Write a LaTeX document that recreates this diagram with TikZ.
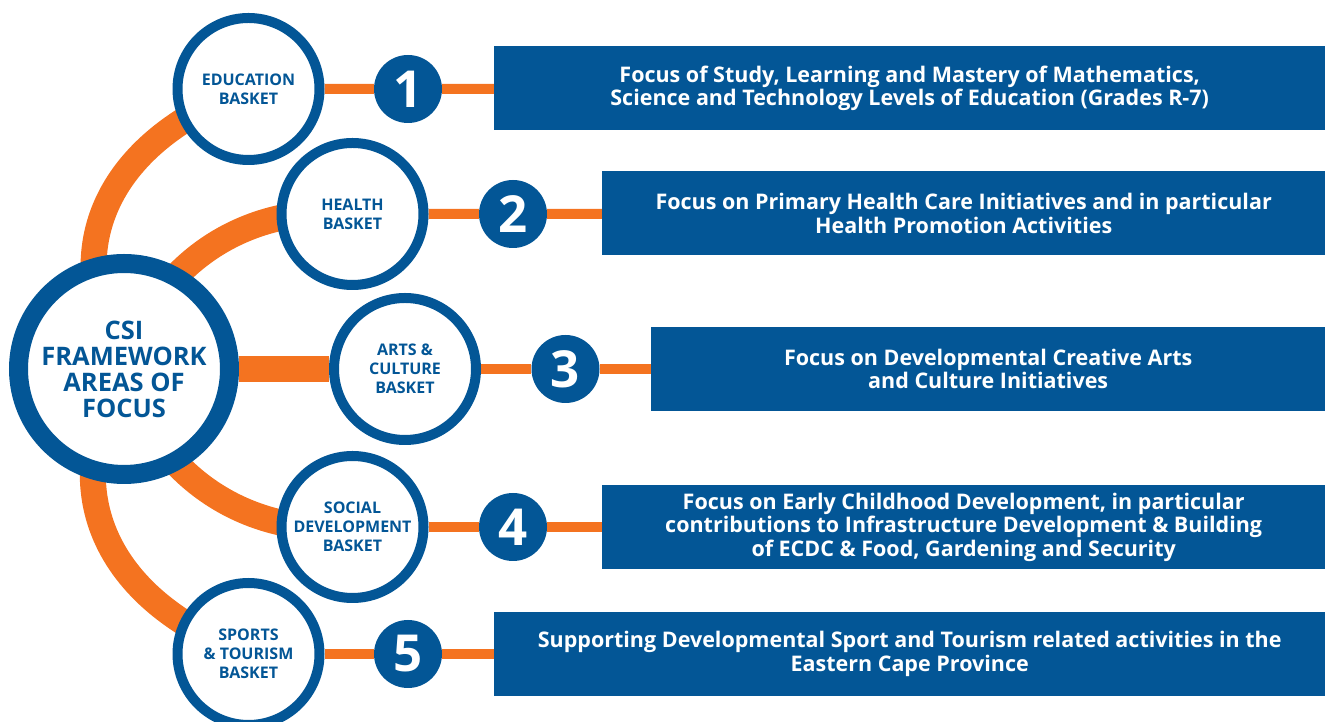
\documentclass[tikz,border=0pt]{standalone}
\usepackage{fontspec}
\setmainfont{Open Sans}
\usepackage{tikz}
\usetikzlibrary{backgrounds}

\definecolor{csiblue}{RGB}{3,86,150}
\definecolor{csiorange}{RGB}{244,115,32}

\begin{document}
\begin{tikzpicture}[x=1pt, y=1pt,
    hub/.style={circle, draw=csiblue, line width=19pt, fill=white, minimum size=211pt, inner sep=0pt,
        align=center, text=csiblue, font=\bfseries\fontsize{25.5}{26}\selectfont},
    basket/.style={circle, draw=csiblue, line width=10pt, fill=white, minimum size=142pt, inner sep=0pt,
        align=center, text=csiblue, font=\bfseries\fontsize{16}{19}\selectfont},
    num/.style={circle, fill=csiblue, minimum size=68pt, inner sep=0pt, text=white,
        font=\bfseries\fontsize{51}{51}\selectfont},
    focus/.style={rectangle, fill=csiblue, minimum height=84pt, inner sep=0pt, anchor=west,
        align=center, text=white, font=\bfseries\fontsize{21.5}{23.5}\selectfont},
    arm/.style={draw=csiorange, line width=26pt},
    link/.style={draw=csiorange, line width=10pt}]
    \useasboundingbox (0,0) rectangle (1325,722);

    \node[hub] (csi) at (124,353) {CSI\\FRAMEWORK\\AREAS OF\\FOCUS};

    \node[basket] (edu) at (248.5,633) {EDUCATION\\BASKET};
    \node[basket] (health) at (352.5,508) {HEALTH\\BASKET};
    \node[basket] (arts) at (405,353) {ARTS \&\\CULTURE\\BASKET};
    \node[basket] (social) at (352.5,195) {SOCIAL\\DEVELOPMENT\\BASKET};
    \node[basket] (sports) at (248.5,68) {SPORTS\\\& TOURISM\\BASKET};

    \node[num] (n1) at (408,633) {1};
    \node[num] (n2) at (513,508) {2};
    \node[num] (n3) at (565.5,353) {3};
    \node[num] (n4) at (513,195) {4};
    \node[num] (n5) at (408,68) {5};

    \node[focus, minimum width=831pt] (r1) at (494,633.5)
        {Focus of Study, Learning and Mastery of Mathematics,\\Science and Technology Levels of Education (Grades R-7)};
    \node[focus, minimum width=723pt] (r2) at (602,508.5)
        {Focus on Primary Health Care Initiatives and in particular\\Health Promotion Activities};
    \node[focus, minimum width=674pt] (r3) at (651,353)
        {Focus on Developmental Creative Arts\\and Culture Initiatives};
    \node[focus, minimum width=723pt] (r4) at (602,195)
        {Focus on Early Childhood Development, in particular\\contributions to Infrastructure Development \& Building\\of ECDC \& Food, Gardening and Security};
    \node[focus, minimum width=831pt] (r5) at (494,68)
        {Supporting Developmental Sport and Tourism related activities in the\\Eastern Cape Province};

    \begin{scope}[on background layer]
        \draw[arm] (csi.center) to[out=120, in=200, looseness=1.2] (edu.center);
        \draw[arm] (csi.center) to[bend left=40] (health.center);
        \draw[arm] (csi) -- (arts);
        \draw[arm] (csi.center) to[bend right=40] (social.center);
        \draw[arm] (csi.center) to[out=240, in=160, looseness=1.2] (sports.center);

        \draw[link] (edu) -- (n1) -- (r1);
        \draw[link] (health) -- (n2) -- (r2);
        \draw[link] (arts) -- (n3) -- (r3);
        \draw[link] (social) -- (n4) -- (r4);
        \draw[link] (sports) -- (n5) -- (r5);
    \end{scope}
\end{tikzpicture}
\end{document}
